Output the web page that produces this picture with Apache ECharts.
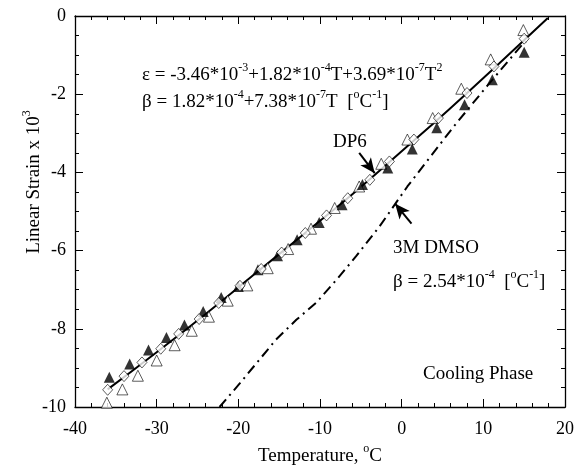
<!DOCTYPE html>
<html>
<head>
<meta charset="utf-8">
<script src="https://cdn.jsdelivr.net/npm/echarts@6/dist/echarts.min.js"></script>
<style>
  html, body { margin: 0; padding: 0; background: #fff; }
  #chart { width: 577px; height: 466px; }
</style>
</head>
<body>
<div id="chart"></div>
<script>
// temperatures (C) and strain (x 10^3)
var openTriT = [-36.1, -34.2, -32.3, -30.0, -27.8, -25.7, -23.6, -21.3, -18.9, -16.4, -13.9, -11.1, -8.2, -5.2, -2.5, 0.7, 3.8, 7.3, 10.9, 14.9];
var openTriE = [-9.89, -9.55, -9.20, -8.81, -8.42, -8.05, -7.69, -7.28, -6.89, -6.45, -5.96, -5.44, -4.91, -4.36, -3.78, -3.16, -2.61, -1.86, -1.11, -0.36];

var fillTriT = [-35.8, -33.3, -31.0, -28.8, -26.6, -24.3, -22.1, -20.0, -17.6, -15.2, -12.8, -10.1, -7.3, -4.8, -1.7, 1.3, 4.3, 7.7, 11.1, 15.0];
var fillTriE = [-9.24, -8.90, -8.54, -8.22, -7.90, -7.56, -7.20, -6.92, -6.49, -6.13, -5.72, -5.28, -4.83, -4.31, -3.89, -3.40, -2.86, -2.27, -1.63, -0.93];

var diamT = [-36.0, -34.0, -31.8, -29.5, -27.3, -24.8, -22.4, -19.8, -17.2, -14.7, -11.8, -9.2, -6.6, -3.9, -1.5, 1.5, 4.5, 8.0, 11.3, 15.0];
var diamE = [-9.56, -9.21, -8.86, -8.51, -8.13, -7.75, -7.34, -6.90, -6.47, -6.05, -5.55, -5.10, -4.66, -4.19, -3.72, -3.16, -2.61, -1.97, -1.29, -0.58];

// DP6 fit curve, traced
var fitT = [-36, -30, -24, -18, -12, -6, 0, 6, 12, 17.9];
var fitE = [-9.55, -8.6, -7.62, -6.6, -5.58, -4.55, -3.46, -2.35, -1.2, -0.05];

// 3M DMSO curve, traced
var dmsoT = [-22.3, -19.8, -15.4, -12.9, -10.5, -8.0, -5.6, -2.7, -0.7, 0.7, 6.4, 10.5, 14.6, 15.2];
var dmsoE = [-10.0, -9.39, -8.28, -7.77, -7.34, -6.75, -6.15, -5.38, -4.78, -4.36, -2.82, -1.78, -0.77, -0.65];

var xTicks = [-40, -30, -20, -10, 0, 10, 20];
var yTicks = [-10, -8, -6, -4, -2, 0];

function zip(a, b) {
    var out = [];
    for (var i = 0; i < a.length; i++) out.push([a[i], b[i]]);
    return out;
}

var serif = '"Liberation Serif", "DejaVu Serif", serif';
// base text sits at the bottom of a taller line, superscripts ride at its top
var richBase = {
    n: { fontSize: 19, lineHeight: 23, fontFamily: serif, color: '#000', verticalAlign: 'bottom' },
    s: { fontSize: 12, lineHeight: 13, fontFamily: serif, color: '#000', verticalAlign: 'top' }
};

function axisCommon(pos, showLabel, ticks) {
    return {
        type: 'value',
        position: pos,
        min: ticks[0],
        max: ticks[ticks.length - 1],
        interval: ticks[1] - ticks[0],
        axisLine: { show: true, onZero: false, lineStyle: { color: '#000', width: 1.3 } },
        axisTick: { show: true, inside: true, length: 8, lineStyle: { color: '#000', width: 1 } },
        minorTick: { show: true, splitNumber: pos === 'left' || pos === 'right' ? 4 : 5, length: 4, lineStyle: { color: '#000', width: 1 } },
        splitLine: { show: false },
        axisLabel: {
            show: showLabel,
            color: '#000',
            fontSize: 18,
            fontFamily: serif,
            margin: (pos === 'bottom') ? 13 : 9
        }
    };
}

function draw() {
    var chart = echarts.init(document.getElementById('chart'));

    var option = {
        animation: false,
        backgroundColor: '#fff',
        grid: { left: 75, right: 11, top: 16, bottom: 59 },
        xAxis: [axisCommon('bottom', true, xTicks), axisCommon('top', false, xTicks)],
        yAxis: [axisCommon('left', true, yTicks), axisCommon('right', false, yTicks)],
        series: [
            {
                name: 'DP6 fit',
                type: 'line',
                data: zip(fitT, fitE),
                showSymbol: false,
                smooth: true,
                lineStyle: { color: '#000', width: 2 },
                z: 2
            },
            {
                name: '3M DMSO',
                type: 'line',
                data: zip(dmsoT, dmsoE),
                showSymbol: false,
                lineStyle: { color: '#000', width: 2, type: [10, 5, 2, 5] },
                z: 2,
                markLine: {
                    silent: true,
                    symbol: ['none', 'arrow'],
                    symbolSize: [10, 15],
                    label: { show: false },
                    lineStyle: { color: '#000', width: 2, type: 'solid' },
                    data: [
                        [{ coord: [-5.2, -3.5] }, { coord: [-3.3, -4.02] }],
                        [{ coord: [1.2, -5.31] }, { coord: [-0.8, -4.8] }]
                    ]
                }
            },
            {
                name: 'open',
                type: 'scatter',
                data: zip(openTriT, openTriE),
                symbol: 'triangle',
                symbolSize: 11,
                itemStyle: { color: '#fff', borderColor: '#000', borderWidth: 0.8 },
                z: 3
            },
            {
                name: 'filled',
                type: 'scatter',
                data: zip(fillTriT, fillTriE),
                symbol: 'triangle',
                symbolSize: 11,
                itemStyle: { color: '#000' },
                z: 4
            },
            {
                name: 'diamond',
                type: 'scatter',
                data: zip(diamT, diamE),
                symbol: 'diamond',
                symbolSize: [10, 11],
                itemStyle: { color: '#fff', borderColor: '#000', borderWidth: 0.8 },
                z: 5
            }
        ],
        graphic: [
            {
                type: 'text', x: 142, y: 73,
                style: {
                    text: '{n|ε = -3.46*10}{s|-3}{n|+1.82*10}{s|-4}{n|T+3.69*10}{s|-7}{n|T}{s|2}',
                    rich: richBase, verticalAlign: 'middle', align: 'left'
                }
            },
            {
                type: 'text', x: 142, y: 100,
                style: {
                    text: '{n|β = 1.82*10}{s|-4}{n|+7.38*10}{s|-7}{n|T  [}{s|o}{n|C}{s|-1}{n|]}',
                    rich: richBase, verticalAlign: 'middle', align: 'left'
                }
            },
            {
                type: 'text', x: 333, y: 140,
                style: { text: '{n|DP6}', rich: richBase, verticalAlign: 'middle', align: 'left' }
            },
            {
                type: 'text', x: 393, y: 246,
                style: { text: '{n|3M DMSO}', rich: richBase, verticalAlign: 'middle', align: 'left' }
            },
            {
                type: 'text', x: 393, y: 280,
                style: {
                    text: '{n|β = 2.54*10}{s|-4}{n|  [}{s|o}{n|C}{s|-1}{n|]}',
                    rich: richBase, verticalAlign: 'middle', align: 'left'
                }
            },
            {
                type: 'text', x: 423, y: 372,
                style: { text: '{n|Cooling Phase}', rich: richBase, verticalAlign: 'middle', align: 'left' }
            },
            {
                type: 'text', x: 320, y: 454,
                style: { text: '{n|Temperature, }{s|o}{n|C}', rich: richBase, verticalAlign: 'middle', align: 'center' }
            },
            {
                type: 'text', x: 32, y: 182, rotation: Math.PI / 2,
                style: { text: '{n|Linear Strain x 10}{s|3}', rich: richBase, verticalAlign: 'middle', align: 'center' }
            }
        ]
    };

    chart.setOption(option);
}

draw();
</script>
</body>
</html>
